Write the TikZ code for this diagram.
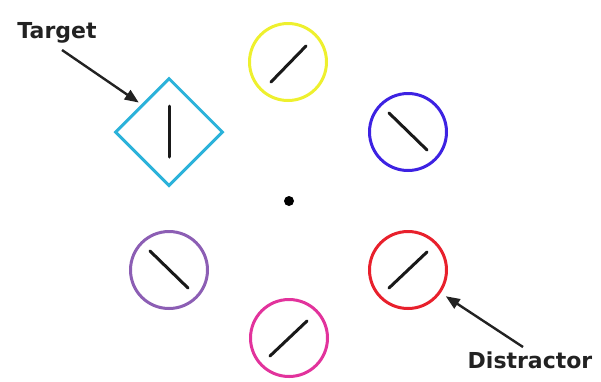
\documentclass[tikz,border=0pt]{standalone}
\usepackage{fontspec}
\setmainfont{DejaVu Sans}
\usetikzlibrary{arrows.meta,shapes.geometric}
\definecolor{cyellow}{HTML}{EEF02E}
\definecolor{cblue}{HTML}{3D22E2}
\definecolor{cred}{HTML}{E8202C}
\definecolor{cmagenta}{HTML}{E2339C}
\definecolor{cpurple}{HTML}{8C5EB4}
\definecolor{ccyan}{HTML}{2BB2DA}
\definecolor{ctext}{HTML}{222222}
\begin{document}
\begin{tikzpicture}[x=1pt,y=-1pt,
  ring/.style={circle,draw=#1,line width=3pt,minimum size=77pt,inner sep=0pt},
  bar/.style={line width=3pt,line cap=round,black!90},
  label/.style={font=\bfseries\fontsize{22}{24}\selectfont,text=ctext,inner sep=0pt},
  pointer/.style={line width=2.4pt,ctext,-{Triangle[length=14pt,width=11pt]}}]
\useasboundingbox (0,0) rectangle (601,381);

% fixation point
\node[circle,fill=black,minimum size=10pt,inner sep=0pt] (fix) at (289,201) {};

% target: diamond with a vertical bar
\node[diamond,draw=ccyan,line width=3pt,minimum width=108pt,minimum height=108pt,inner sep=0pt,aspect=1] (target) at (169,132) {};
\draw[bar] (169,106) -- (169,157);

% distractors: circles with tilted bars
\node[ring=cyellow] (yel) at (288,62) {};
\draw[bar] (271,82) -- (306,46);
\node[ring=cblue] (blu) at (408,132) {};
\draw[bar] (389,113) -- (427,150);
\node[ring=cred] (red) at (408,270) {};
\draw[bar] (389,288) -- (427,252);
\node[ring=cmagenta] (mag) at (289,338) {};
\draw[bar] (270,356) -- (307,321);
\node[ring=cpurple] (pur) at (169,270) {};
\draw[bar] (150,251) -- (188,288);

% labels and pointers
\node[label] (tlabel) at (57,33) {Target};
\coordinate (tstart) at (62,50);
\draw[pointer,shorten >=3pt] (tstart) -- (target.north west);

\node[label] (dlabel) at (530,360) {Distractor};
\coordinate (dstart) at (523,347);
\draw[pointer,shorten >=6pt] (dstart) -- (red.-35);
\end{tikzpicture}
\end{document}
